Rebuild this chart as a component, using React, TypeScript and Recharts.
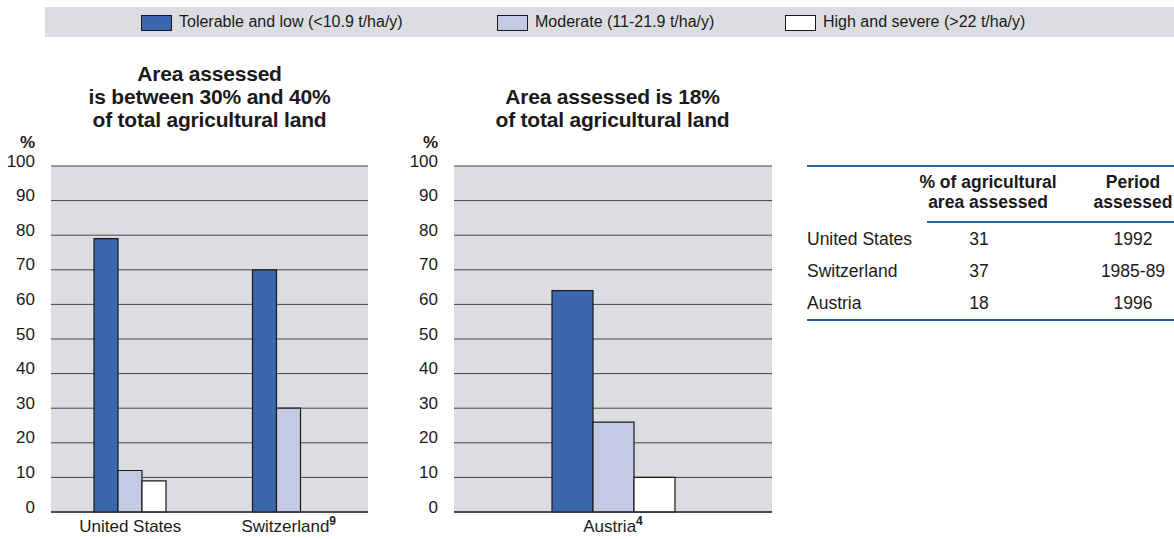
import React from "react";
import { BarChart, Bar, XAxis, YAxis, CartesianGrid } from "recharts";

const seriesNames = [
  "Tolerable and low (<10.9 t/ha/y)",
  "Moderate (11-21.9 t/ha/y)",
  "High and severe (>22 t/ha/y)",
];
const seriesColors = ["#3a67ae", "#c5cae4", "#ffffff"];

const leftCountries = ["United States", "Switzerland"];
const leftNotes = ["", "9"];
const leftTolerable = [79, 70];
const leftModerate = [12, 30];
const leftHigh = [9, 0];

const rightCountries = ["Austria"];
const rightNotes = ["4"];
const rightTolerable = [64];
const rightModerate = [26];
const rightHigh = [10];

const yTicks = [0, 10, 20, 30, 40, 50, 60, 70, 80, 90, 100];

const tableCountries = ["United States", "Switzerland", "Austria"];
const tableShare = ["31", "37", "18"];
const tablePeriod = ["1992", "1985-89", "1996"];

const FONT = "'Liberation Sans', Arial, Helvetica, sans-serif";
const BLUE_LINE = "#2a5fa6";

const makeRows = (
  names: string[],
  notes: string[],
  tol: number[],
  mod: number[],
  high: number[]
) =>
  names.map((name, i) => ({
    name,
    note: notes[i],
    tolerable: tol[i],
    moderate: mod[i],
    high: high[i],
  }));

const leftRows = makeRows(leftCountries, leftNotes, leftTolerable, leftModerate, leftHigh);
const rightRows = makeRows(rightCountries, rightNotes, rightTolerable, rightModerate, rightHigh);

const YTick = (props: any) => {
  const { x, y, payload } = props;
  return (
    <text
      x={x}
      y={y - 5}
      textAnchor="end"
      dominantBaseline="central"
      fontSize={17}
      fontFamily={FONT}
      fill="#1a1a1a"
    >
      {payload.value}
    </text>
  );
};

const makeXTick = (rows: { name: string; note: string }[]) => (props: any) => {
  const { x, y, payload } = props;
  const row = rows.find((r) => r.name === payload.value);
  return (
    <text x={x} y={y} dy="0.71em" textAnchor="middle" fontSize={17} fontFamily={FONT} fill="#1a1a1a">
      {payload.value}
      {row && row.note ? (
        <tspan dy={-7} fontSize={12} fontWeight="bold">
          {row.note}
        </tspan>
      ) : null}
    </text>
  );
};

interface PanelProps {
  rows: any[];
  left: number;
  yAxisWidth: number;
  rightMargin: number;
  gap: number;
}

const Panel = ({ rows, left, yAxisWidth, rightMargin, gap }: PanelProps) => (
  <div style={{ position: "absolute", left, top: 140 }}>
    <BarChart
      width={380}
      height={395}
      data={rows}
      margin={{ top: 26, right: rightMargin, left: 0, bottom: 0 }}
      barGap={0}
      barCategoryGap={gap}
    >
      <CartesianGrid vertical={false} fill="#dcdde0" stroke="#444" strokeWidth={1} />
      <XAxis
        dataKey="name"
        height={23}
        tickLine={false}
        tickSize={0}
        tickMargin={8}
        axisLine={{ stroke: "#333", strokeWidth: 1.5 }}
        tick={makeXTick(rows)}
        interval={0}
      />
      <YAxis
        width={yAxisWidth}
        domain={[0, 100]}
        ticks={yTicks}
        tickLine={false}
        tickSize={0}
        tickMargin={16}
        axisLine={false}
        tick={<YTick />}
        interval={0}
      />
      <Bar dataKey="tolerable" fill={seriesColors[0]} stroke="#1a1a1a" strokeWidth={1.2} isAnimationActive={false} />
      <Bar dataKey="moderate" fill={seriesColors[1]} stroke="#1a1a1a" strokeWidth={1.2} isAnimationActive={false} />
      <Bar dataKey="high" fill={seriesColors[2]} stroke="#1a1a1a" strokeWidth={1.2} isAnimationActive={false} />
    </BarChart>
  </div>
);

const legendPos = [141, 497, 785];

const App = () => {
  const titleStyle: React.CSSProperties = {
    position: "absolute",
    textAlign: "center",
    fontWeight: "bold",
    fontSize: 21,
    lineHeight: "23px",
    letterSpacing: -0.2,
    color: "#1a1a1a",
  };
  const pctStyle: React.CSSProperties = {
    position: "absolute",
    top: 133,
    textAlign: "right",
    fontWeight: "bold",
    fontSize: 17,
    color: "#1a1a1a",
  };
  const cell: React.CSSProperties = { position: "absolute", fontSize: 17.5, color: "#1a1a1a", whiteSpace: "nowrap" };
  return (
    <div
      style={{
        position: "absolute",
        left: 0,
        top: 0,
        width: 1174,
        height: 539,
        overflow: "hidden",
        background: "#fff",
        fontFamily: FONT,
      }}
    >
      {/* legend band */}
      <div style={{ position: "absolute", left: 45, top: 7, width: 1129, height: 30, background: "#dcdde0" }} />
      {seriesNames.map((name, i) => (
        <React.Fragment key={name}>
          <div
            style={{
              position: "absolute",
              left: legendPos[i],
              top: 15,
              width: 29,
              height: 14,
              background: seriesColors[i],
              border: "1px solid #1a1a1a",
            }}
          />
          <div style={{ position: "absolute", left: legendPos[i] + 38, top: 13, fontSize: 16, color: "#1a1a1a", whiteSpace: "nowrap" }}>
            {name}
          </div>
        </React.Fragment>
      ))}

      <div style={{ ...titleStyle, left: 41, width: 337, top: 62 }}>
        Area assessed
        <br />
        is between 30% and 40%
        <br />
        of total agricultural land
      </div>
      <div style={{ ...titleStyle, left: 444, width: 337, top: 85 }}>
        Area assessed is 18%
        <br />
        of total agricultural land
      </div>
      <div style={{ ...pctStyle, left: 0, width: 35 }}>%</div>
      <div style={{ ...pctStyle, left: 400, width: 38 }}>%</div>

      <Panel rows={leftRows} left={0} yAxisWidth={51} rightMargin={12} gap={43} />
      <Panel rows={rightRows} left={400} yAxisWidth={54} rightMargin={8} gap={98} />

      {/* table */}
      <div style={{ position: "absolute", left: 807, top: 165, width: 400, height: 2, background: BLUE_LINE }} />
      <div style={{ ...cell, left: 900, width: 176, top: 172, textAlign: "center", fontWeight: "bold", lineHeight: "20px" }}>
        % of agricultural
        <br />
        area assessed
      </div>
      <div style={{ ...cell, left: 1083, width: 100, top: 172, textAlign: "center", fontWeight: "bold", lineHeight: "20px" }}>
        Period
        <br />
        assessed
      </div>
      <div style={{ position: "absolute", left: 927, top: 221, width: 300, height: 2, background: BLUE_LINE }} />
      {tableCountries.map((c, i) => (
        <React.Fragment key={c}>
          <div style={{ ...cell, left: 807, top: 229 + i * 32 }}>{c}</div>
          <div style={{ ...cell, left: 929, width: 100, top: 229 + i * 32, textAlign: "center" }}>{tableShare[i]}</div>
          <div style={{ ...cell, left: 1083, width: 100, top: 229 + i * 32, textAlign: "center" }}>{tablePeriod[i]}</div>
        </React.Fragment>
      ))}
      <div style={{ position: "absolute", left: 807, top: 319, width: 400, height: 2, background: BLUE_LINE }} />
    </div>
  );
};

export default App;
